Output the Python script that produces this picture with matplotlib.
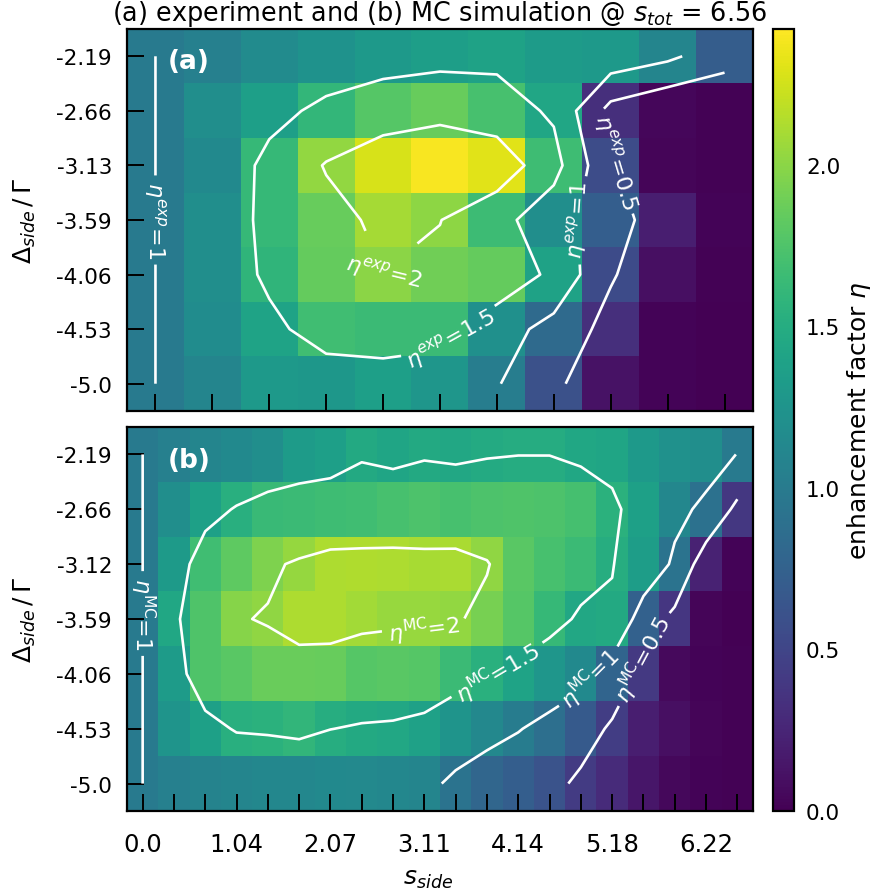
import numpy as np
import matplotlib
matplotlib.use("Agg")
import matplotlib.pyplot as plt

plt.rcParams["font.family"] = "DejaVu Sans"
plt.rcParams["mathtext.fontset"] = "dejavusans"

# detuning tick labels (rows, top to bottom)
delta_labels_exp = ["-2.19", "-2.66", "-3.13", "-3.59", "-4.06", "-4.53", "-5.0"]
delta_labels_mc = ["-2.19", "-2.66", "-3.12", "-3.59", "-4.06", "-4.53", "-5.0"]
# sideband saturation tick labels (every third simulated column)
s_side_labels = ["0.0", "1.04", "2.07", "3.11", "4.14", "5.18", "6.22"]

# measured enhancement factor, 7 detunings x 11 saturation steps
eta_exp = np.array([
    [1.00, 1.05, 1.17, 1.23, 1.30, 1.36, 1.39, 1.33, 1.31, 1.10, 0.71],
    [1.00, 1.20, 1.37, 1.60, 1.78, 1.86, 1.72, 1.43, 0.33, 0.04, 0.01],
    [1.00, 1.15, 1.62, 2.03, 2.27, 2.40, 2.31, 1.67, 0.56, 0.03, 0.01],
    [1.00, 1.20, 1.62, 1.86, 2.09, 2.01, 1.66, 1.20, 0.72, 0.20, 0.02],
    [1.00, 1.20, 1.58, 1.85, 1.995, 1.90, 1.85, 1.39, 0.55, 0.10, 0.01],
    [1.00, 1.18, 1.40, 1.68, 1.65, 1.65, 1.21, 0.84, 0.33, 0.02, 0.00],
    [1.00, 1.10, 1.30, 1.28, 1.37, 1.27, 1.03, 0.60, 0.12, 0.02, 0.00],
])

# Monte-Carlo enhancement factor, 7 detunings x 20 saturation steps
eta_mc = np.array([
    [1.00, 1.05, 1.10, 1.15, 1.20, 1.33, 1.37, 1.47, 1.42, 1.47,
     1.45, 1.48, 1.495, 1.495, 1.44, 1.42, 1.30, 1.22, 1.20, 0.99],
    [1.00, 1.20, 1.38, 1.525, 1.64, 1.65, 1.67, 1.68, 1.72, 1.74,
     1.72, 1.74, 1.75, 1.74, 1.71, 1.55, 1.38, 1.12, 0.906, 0.39],
    [1.00, 1.32, 1.68, 1.82, 1.95, 2.04, 2.12, 2.13, 2.12, 2.10,
     2.11, 2.02, 1.80, 1.72, 1.65, 1.51, 1.35, 0.92, 0.23, 0.02],
    [1.00, 1.44, 1.75, 1.98, 2.02, 2.12, 2.12, 2.08, 2.05, 2.05,
     2.03, 1.92, 1.78, 1.62, 1.45, 1.47, 0.75, 0.38, 0.03, 0.00],
    [1.00, 1.33, 1.75, 1.80, 1.87, 1.865, 1.853, 1.785, 1.80, 1.78,
     1.65, 1.54, 1.40, 1.27, 1.15, 0.78, 0.40, 0.06, 0.02, 0.01],
    [1.00, 1.25, 1.377, 1.53, 1.55, 1.59, 1.505, 1.468, 1.448, 1.386,
     1.25, 1.13, 1.02, 0.88, 0.69, 0.44, 0.20, 0.10, 0.03, 0.01],
    [1.00, 1.05, 1.08, 1.10, 1.12, 1.12, 1.15, 1.14, 1.12, 1.10,
     0.92, 0.80, 0.72, 0.62, 0.42, 0.30, 0.15, 0.05, 0.02, 0.01],
])

levels = [0.5, 1.0, 1.5, 2.0]
eta_max = 2.42

fig = plt.figure(figsize=(8.89, 8.95), dpi=100)
W, H = 889.0, 895.0
ax_a = fig.add_axes([127 / W, 1 - 412 / H, 626 / W, 382 / H])
ax_b = fig.add_axes([127 / W, 1 - 812 / H, 626 / W, 384 / H])
cax = fig.add_axes([773 / W, 1 - 812 / H, 21 / W, 782 / H])


def draw_panel(ax, data, sup, ylabels, label_pos, tag):
    im = ax.imshow(data, cmap="viridis", vmin=0, vmax=eta_max,
                   aspect="auto", interpolation="nearest")
    cs = ax.contour(data, levels=levels, colors="white", linewidths=1.9)
    fmt = {lev: r"$\eta^{%s}$=%g" % (sup, lev) for lev in levels}
    ax.clabel(cs, fmt=fmt, fontsize=16, colors="white",
              inline=True, inline_spacing=6, manual=label_pos)
    ax.set_yticks(range(data.shape[0]))
    ax.set_yticklabels(ylabels, fontsize=15.5)
    ax.set_xticks(range(data.shape[1]))
    ax.tick_params(direction="in", length=12, width=1.4, top=False, right=False)
    ax.tick_params(axis="y", pad=10.8)
    for sp in ax.spines.values():
        sp.set_linewidth(1.6)
    ax.set_ylabel(r"$\mathit{\Delta}_{side}\,/\,\Gamma$", fontsize=18)
    ax.yaxis.set_label_coords(-0.142, 0.5)
    ax.text(0.065, 0.915, tag, transform=ax.transAxes, color="white",
            fontweight="bold", fontsize=19, ha="left", va="center")
    return im


im = draw_panel(ax_a, eta_exp, "exp", delta_labels_exp,
                [(0.0, 3.0), (4.0, 3.95), (5.0, 5.0), (7.4, 3.0), (8.0, 1.96)], "(a)")
ax_a.set_xticklabels([])

draw_panel(ax_b, eta_mc, r"\mathrm{MC}", delta_labels_mc,
           [(0.0, 2.9), (9.0, 3.35), (11.4, 4.0), (14.1, 4.0), (16.0, 3.73)], "(b)")
xt = [""] * eta_mc.shape[1]
for i, lab in enumerate(s_side_labels):
    xt[3 * i] = lab
ax_b.set_xticklabels(xt, fontsize=17.5)
ax_b.tick_params(axis="x", pad=15.4)
ax_b.set_xlabel(r"$s_{side}$", fontsize=18)
ax_b.xaxis.set_label_coords(0.481, -0.142)

cb = fig.colorbar(im, cax=cax)
cb.outline.set_linewidth(1.6)
cb.set_ticks([0.0, 0.5, 1.0, 1.5, 2.0])
cax.tick_params(length=0, pad=8.6, labelsize=15.5)
cb.set_label(r"enhancement factor $\eta$", fontsize=18)
cax.yaxis.set_label_coords(3.45, 0.5)

fig.text(0.5 * (127 + 753) / W, 1 - 14 / H,
         r"(a) experiment and (b) MC simulation @ $s_{tot}$ = 6.56",
         fontsize=18.4, ha="center", va="center")

fig.savefig("out.png", dpi=100)
